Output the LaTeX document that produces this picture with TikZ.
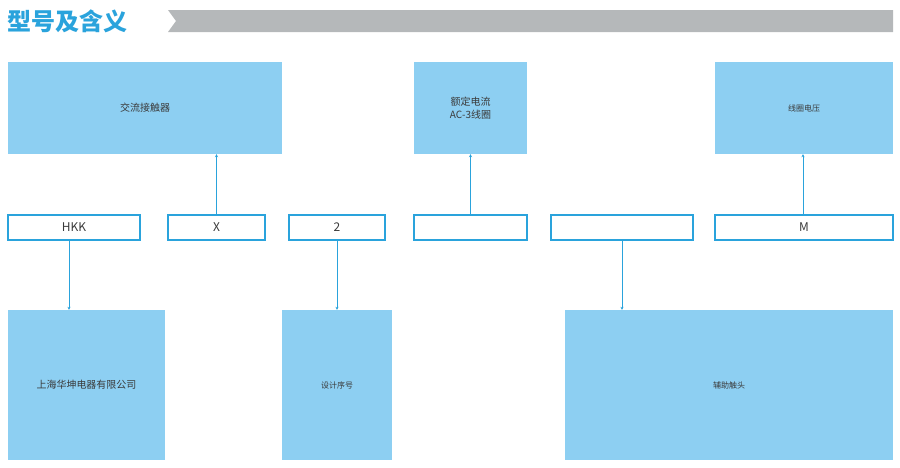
\documentclass[tikz,border=0pt]{standalone}
\usepackage{fontspec}
\setmainfont{Noto Sans CJK SC}
\usetikzlibrary{arrows.meta}
\definecolor{fillb}{HTML}{8DCFF2}
\definecolor{lineb}{HTML}{2AA3DC}
\definecolor{txt}{HTML}{3A3A3A}
\definecolor{bar}{HTML}{B5B8BA}
\tikzset{
  box/.style={fill=fillb,draw=none,text=txt,font=\fontsize{10}{13}\selectfont,align=center},
  code/.style={draw=lineb,line width=1.2pt,fill=white,text=txt,font=\fontsize{12}{14}\selectfont},
  conn/.style={draw=lineb,line width=0.9pt,-{Stealth[length=3pt,width=3pt]}}
}
\begin{document}
\begin{tikzpicture}[x=1pt,y=-1pt]
\useasboundingbox (0,0) rectangle (900,467);
\fill[bar] (168,10) -- (893,10) -- (893,32) -- (168,32) -- (176,21) -- cycle;
\node[anchor=west,text=lineb,font=\fontsize{24}{26}\selectfont\bfseries,inner sep=0] (title) at (7,21) {型号及含义};
% top
\node[box] (a) at (145,108) [minimum width=274,minimum height=92] {交流接触器};
\node[box] (b) at (470.5,108) [minimum width=113,minimum height=92] {额定电流\\AC-3线圈};
\node[box,font=\fontsize{8}{10}\selectfont] (c) at (804,108) [minimum width=178,minimum height=92] {线圈电压};
% middle
\node[code,minimum width=132,minimum height=25] (m1) at (74,227.5) {HKK};
\node[code,minimum width=97,minimum height=25] (m2) at (216.5,227.5) {X};
\node[code,minimum width=96,minimum height=25] (m3) at (337,227.5) {2};
\node[code,minimum width=113,minimum height=25] (m4) at (470.5,227.5) {};
\node[code,minimum width=142,minimum height=25] (m5) at (622,227.5) {};
\node[code,minimum width=178,minimum height=25] (m6) at (804,227.5) {M};
% bottom
\node[box,minimum width=157,minimum height=150] (d) at (86.5,385) {上海华坤电器有限公司};
\node[box,font=\fontsize{8}{10}\selectfont,minimum width=110,minimum height=150] (e) at (337,385) {设计序号};
\node[box,font=\fontsize{8}{10}\selectfont,minimum width=328,minimum height=150] (f) at (729,385) {辅助触头};
% connectors
\draw[conn] (m1.south -| 69,0) -- (d.north -| 69,0);
\draw[conn] (m2.north) -- (m2.north |- a.south);
\draw[conn] (m3.south) -- (e.north);
\draw[conn] (m4.north) -- (b.south);
\draw[conn] (m5.south) -- (m5.south |- f.north);
\draw[conn] (m6.north -| 803,0) -- (c.south -| 803,0);
\end{tikzpicture}
\end{document}
